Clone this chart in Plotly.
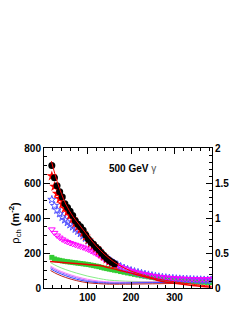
import plotly.graph_objects as go

# ---- data ----
x_left = [18, 24, 30, 36, 42, 48, 54, 60, 66, 72, 78, 84, 90, 96, 102, 108, 114, 120,
          126, 132, 138, 144, 150, 156, 162]
x_right = [168, 176, 184, 192, 200, 208, 216, 224, 232, 240, 248, 256, 264, 272, 280,
           288, 296, 304, 312, 320, 328, 336, 344, 352, 360, 368, 376, 384]

black_y = [700, 630, 585, 550, 520, 482, 460, 438, 415, 385, 365, 350, 330, 303, 278,
           262, 248, 232, 218, 200, 185, 168, 157, 147, 138]
red_y = [640, 580, 540, 510, 480, 455, 435, 415, 395, 370, 350, 335, 315, 295, 275,
         258, 242, 228, 212, 196, 180, 165, 152, 142, 132]
blue_y = [505, 470, 445, 425, 405, 390, 375, 362, 350, 337, 325, 312, 298, 285, 270,
          255, 240, 225, 210, 195, 182, 170, 158, 148, 140]
blue_y_right = [132, 122, 113, 106, 99, 93, 88, 83, 78, 74, 70, 66, 63, 60, 58, 56, 54,
                52, 51, 50, 49, 48, 47, 46, 46, 45, 45, 45]
magenta_y = [335, 315, 300, 288, 278, 270, 263, 257, 252, 247, 242, 237, 232, 226, 220,
             212, 204, 196, 186, 176, 166, 157, 148, 140, 132]
magenta_y_right = [128, 120, 112, 105, 98, 92, 87, 82, 78, 74, 70, 67, 64, 62, 60, 58,
                   56, 55, 54, 53, 52, 51, 51, 50, 50, 50, 51, 52]
green_y = [175, 166, 161, 158, 155, 152, 150, 148, 146, 144, 142, 140, 138, 136, 134,
           131, 128, 125, 122, 118, 114, 111, 108, 105, 102]
green_y_right = [99, 94, 90, 86, 82, 78, 74, 70, 67, 64, 61, 58, 55, 52, 50, 48, 46, 44,
                 42, 40, 39, 37, 36, 35, 34, 33, 32, 31]

fit1_x = [17, 30, 40, 50, 67, 80, 100, 120, 140, 160, 180, 200, 230, 260, 300, 340, 385]
fit1_y = [725, 610, 540, 480, 407, 365, 300, 240, 190, 150, 120, 97, 72, 52, 35, 22, 10]
fit2_x = [14, 50, 100, 128, 150, 175, 200, 221, 250, 267, 300, 340, 385]
fit2_y = [152, 145, 135, 128, 115, 100, 85, 72, 52, 40, 27, 15, 5]

line_x = [15, 30, 50, 75, 100, 125, 150, 200, 250, 300, 350, 385]
lgreen_line = [145, 125, 105, 85, 68, 55, 45, 38, 36, 36, 38, 40]
pink_line = [125, 105, 85, 65, 50, 40, 35, 33, 35, 38, 45, 55]
violet_line = [118, 98, 78, 58, 43, 35, 30, 30, 32, 35, 40, 48]
blue_line = [110, 90, 70, 50, 37, 30, 27, 28, 30, 33, 36, 40]
dred_line = [100, 80, 60, 42, 30, 25, 22, 22, 24, 26, 28, 30]

x_ticks = [100, 200, 300]
y_ticks = [0, 200, 400, 600, 800]
y2_ticks = [0, 0.5, 1, 1.5, 2]
y2_labels = ["0", "0.5", "1", "1.5", "2"]

# ---- figure ----
fig = go.Figure()

for ys, col in [(lgreen_line, "#88ee88"), (pink_line, "#ff77ff"), (violet_line, "#9966ff"),
                (blue_line, "#3344ff"), (dred_line, "#bb2222")]:
    fig.add_trace(go.Scatter(x=line_x, y=ys, mode="lines", line=dict(color=col, width=1),
                             line_shape="spline", hoverinfo="skip"))

fig.add_trace(go.Scatter(x=x_left + x_right, y=green_y + green_y_right, mode="markers",
                         marker=dict(symbol="square", size=5, color="#33cc33")))
fig.add_trace(go.Scatter(x=x_left + x_right, y=blue_y + blue_y_right, mode="markers",
                         marker=dict(symbol="star-open", size=6, color="#5555ff",
                                     line=dict(width=1, color="#5555ff"))))
fig.add_trace(go.Scatter(x=x_left + x_right, y=magenta_y + magenta_y_right, mode="markers",
                         marker=dict(symbol="triangle-down-open", size=6, color="#ff00ff",
                                     line=dict(width=1, color="#ee00ee"))))
fig.add_trace(go.Scatter(x=x_left, y=red_y, mode="markers",
                         marker=dict(symbol="star", size=8, color="#ff0000", line=dict(width=0))))
fig.add_trace(go.Scatter(x=x_left, y=black_y, mode="markers",
                         marker=dict(symbol="circle", size=7, color="#000000", line=dict(width=0))))
fig.add_trace(go.Scatter(x=fit1_x, y=fit1_y, mode="lines", line=dict(color="#ff0000", width=1),
                         line_shape="spline"))
fig.add_trace(go.Scatter(x=fit2_x, y=fit2_y, mode="lines", line=dict(color="#ee0000", width=1.5),
                         line_shape="spline"))
# dummy trace for right axis
fig.add_trace(go.Scatter(x=[0], y=[0], yaxis="y2", mode="markers",
                         marker=dict(size=0.1, color="rgba(0,0,0,0)"), hoverinfo="skip"))

tickfont = dict(family="Liberation Sans", size=10, color="black", weight="bold")

fig.update_layout(
    width=247, height=319,
    margin=dict(l=36, r=43, t=140, b=39),
    paper_bgcolor="white", plot_bgcolor="white",
    showlegend=False,
    xaxis=dict(range=[0, 386], tickvals=x_ticks, ticks="inside", ticklen=6, tickwidth=1,
               tickcolor="black", showline=True, linecolor="black", linewidth=1,
               mirror="ticks", showgrid=False, zeroline=False, tickfont=tickfont,
               minor=dict(ticks="inside", dtick=20, ticklen=3, tickcolor="black")),
    yaxis=dict(range=[0, 800], tickvals=y_ticks, ticks="inside", ticklen=6, tickwidth=1,
               tickcolor="black", showline=True, linecolor="black", linewidth=1,
               mirror=False, showgrid=False, zeroline=False, tickfont=tickfont,
               minor=dict(ticks="inside", dtick=50, ticklen=3, tickcolor="black")),
    yaxis2=dict(range=[0, 2], overlaying="y", side="right", tickvals=y2_ticks,
                ticktext=y2_labels, ticks="inside", ticklen=6, tickcolor="black",
                showline=True, linecolor="black", linewidth=1, showgrid=False,
                zeroline=False, tickfont=tickfont,
                minor=dict(ticks="inside", dtick=0.1, ticklen=3, tickcolor="black")),
    annotations=[
        dict(text="<b>500 GeV</b> <span style='color:#555'>γ</span>", x=0.525, y=0.857,
             xref="paper", yref="paper", showarrow=False, xanchor="center", yanchor="middle",
             font=dict(family="Liberation Sans", size=10, color="black")),
        dict(text="ρ<sub>ch</sub> <b>(m<sup>-2</sup>)</b>", x=-0.17, y=0.47,
             xref="paper", yref="paper", showarrow=False, textangle=-90,
             xanchor="center", yanchor="middle",
             font=dict(family="Liberation Sans", size=11, color="black")),
    ],
)

fig.write_html("out.html")
